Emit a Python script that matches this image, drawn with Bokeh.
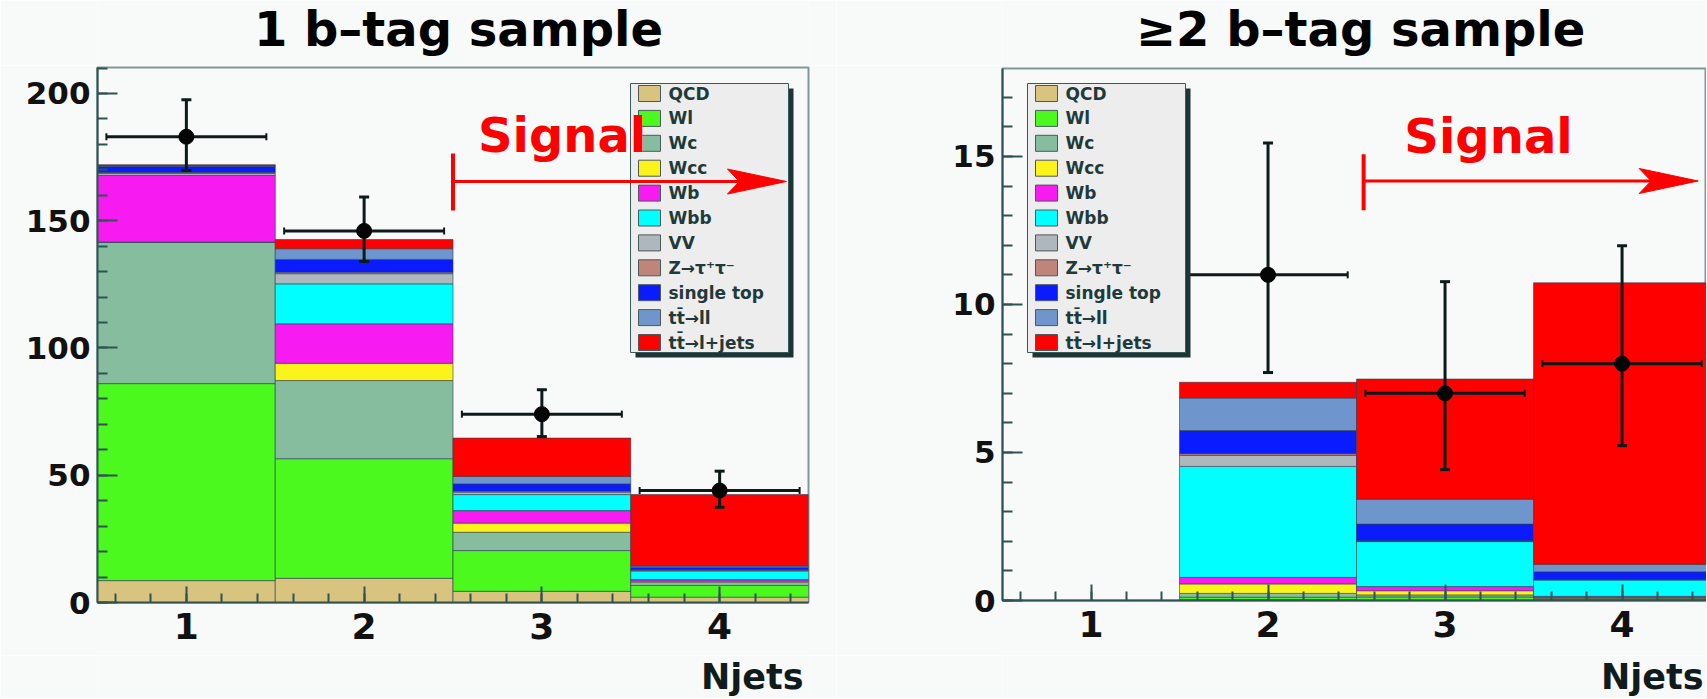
from bokeh.plotting import figure
from bokeh.layouts import row, column
from bokeh.models import Range1d, SingleIntervalTicker, ColumnDataSource
from bokeh.core.properties import value
from bokeh.embed import file_html
from bokeh.resources import INLINE

# ---------------- data ----------------
njets = [1, 2, 3, 4]
components = ["QCD", "Wl", "Wc", "Wcc", "Wb", "Wbb", "VV", "Z→τ⁺τ⁻",
              "single top", "tt̄→ll", "tt̄→l+jets"]
comp_colors = ["#d9c47f", "#4cf91f", "#86bd9f", "#fbf31a", "#f71bf2", "#00ffff",
               "#aeb8bc", "#c0857a", "#0a1cff", "#6f96cc", "#ff0000"]

# 1 b-tag sample (events per Njets bin)
qcd_1b = [8.6, 9.5, 4.4, 2.1]
wl_1b = [77.4, 47.0, 16.0, 4.6]
wc_1b = [55.6, 30.7, 7.2, 1.3]
wcc_1b = [0.0, 6.8, 3.6, 0.4]
wb_1b = [26.2, 15.5, 4.9, 0.6]
wbb_1b = [0.0, 15.7, 6.3, 3.4]
vv_1b = [0.8, 4.0, 1.0, 0.3]
ztt_1b = [0.4, 0.6, 0.4, 0.2]
stop_1b = [2.4, 5.0, 2.8, 0.9]
ttll_1b = [0.3, 4.2, 2.9, 0.5]
ttlj_1b = [0.3, 3.6, 15.1, 28.1]
data_1b = [183, 146, 74, 44]
err_up_1b = [14.5, 13.3, 9.6, 7.6]
err_dn_1b = [13.3, 12.0, 8.8, 6.6]

# >=2 b-tag sample
qcd_2b = [0.0, 0.03, 0.02, 0.01]
wl_2b = [0.0, 0.08, 0.10, 0.03]
wc_2b = [0.0, 0.13, 0.07, 0.03]
wcc_2b = [0.0, 0.32, 0.14, 0.03]
wb_2b = [0.0, 0.22, 0.14, 0.04]
wbb_2b = [0.0, 3.75, 1.52, 0.55]
vv_2b = [0.0, 0.37, 0.02, 0.02]
ztt_2b = [0.0, 0.06, 0.01, 0.01]
stop_2b = [0.0, 0.78, 0.56, 0.25]
ttll_2b = [0.0, 1.10, 0.84, 0.25]
ttlj_2b = [0.0, 0.53, 4.06, 9.51]
data_2b = [0, 11, 7, 8]
err_up_2b = [0.0, 4.45, 3.77, 3.98]
err_dn_2b = [0.0, 3.30, 2.58, 2.77]

stack_1b = [qcd_1b, wl_1b, wc_1b, wcc_1b, wb_1b, wbb_1b, vv_1b, ztt_1b, stop_1b, ttll_1b, ttlj_1b]
stack_2b = [qcd_2b, wl_2b, wc_2b, wcc_2b, wb_2b, wbb_2b, vv_2b, ztt_2b, stop_2b, ttll_2b, ttlj_2b]

# ---------------- style ----------------
BG = "#f8f9f9"
AXIS = "#2f5252"
FONT = "DejaVu Sans"
RED = "#ff0000"
ECOL = "#0c1a1a"
XERR = 0.45
BIN_HALF = 0.5
HEAD_H = 65
FOOT_H = 43


def text_strip(width, height, x_end, txt, x, y_px, size, align, color):
    """Axis-less strip (frame aligned with the panel below/above) holding a title text."""
    f = figure(width=width, height=height, x_range=Range1d(0.5, x_end),
               y_range=Range1d(0, height), title=None, x_axis_type=None, y_axis_type=None,
               output_backend="svg", toolbar_location=None, min_border=0,
               background_fill_color=BG, border_fill_color=BG, outline_line_color=None)
    f.grid.visible = False
    f.text(x=[x], y=[y_px], text=[txt], text_font=value(FONT), text_font_style="bold",
           text_font_size=size, text_color=color, text_align=align, text_baseline="middle")
    return f


def make_panel(stack, data, up, dn, x_end, y_end, geo, tick_int, legend_px, signal):
    w, h, bl, br, bt, bb = geo
    p = figure(width=w, height=h, x_range=Range1d(0.5, x_end), y_range=Range1d(0, y_end),
               title=None, output_backend="svg", toolbar_location=None,
               min_border_left=bl, min_border_right=br, min_border_top=bt, min_border_bottom=bb,
               background_fill_color=BG, border_fill_color=BG,
               outline_line_color="#7d9a9a", outline_line_width=2)
    p.grid.visible = False
    fw = w - bl - br
    fh = h - bt - bb
    sx = fw / (x_end - 0.5)
    sy = fh / y_end

    def X(px):
        return 0.5 + px / sx

    def Y(py):
        return py / sy

    # stacked histogram
    bottom = [0.0] * len(njets)
    for name, col, vals in zip(components, comp_colors, stack):
        top = [b + v for b, v in zip(bottom, vals)]
        src = ColumnDataSource(dict(left=[n - BIN_HALF for n in njets],
                                    right=[n + BIN_HALF for n in njets],
                                    bottom=bottom, top=top))
        p.quad(left="left", right="right", bottom="bottom", top="top", source=src,
               fill_color=col, line_color="#2c3e50", line_width=1, line_alpha=0.6)
        bottom = top

    # data points with error bars
    xs = [n for n, d in zip(njets, data) if d > 0]
    ys = [d for d in data if d > 0]
    ups = [d + u for d, u in zip(data, up) if d > 0]
    dns = [d - e for d, e in zip(data, dn) if d > 0]
    p.segment(x0=xs, y0=dns, x1=xs, y1=ups, line_color=ECOL, line_width=3)
    p.segment(x0=[x - XERR for x in xs], y0=ys, x1=[x + XERR for x in xs], y1=ys,
              line_color=ECOL, line_width=3)
    cap_w = 5 / sx
    cap_h = 3.5 / sy
    for yy in (ups, dns):
        p.segment(x0=[x - cap_w for x in xs], y0=yy, x1=[x + cap_w for x in xs], y1=yy,
                  line_color=ECOL, line_width=3)
    for sgn in (-1, 1):
        ex = [x + sgn * XERR for x in xs]
        p.segment(x0=ex, y0=[y - cap_h for y in ys], x1=ex, y1=[y + cap_h for y in ys],
                  line_color=ECOL, line_width=2)
    p.scatter(x=xs, y=ys, size=15, color="#050505")

    # legend box (ROOT style, with shadow)
    lx, ly, LW, LH = legend_px
    p.quad(left=[X(lx + 5)], right=[X(lx + LW + 5)], bottom=[Y(ly - 5)], top=[Y(ly + LH - 5)],
           fill_color="#1d3535", line_color=None)
    p.quad(left=[X(lx)], right=[X(lx + LW)], bottom=[Y(ly)], top=[Y(ly + LH)],
           fill_color="#ededed", line_color="#3a5a5a", line_width=1)
    pitch = 24.9
    centers = [ly + LH - 10 - i * pitch for i in range(len(components))]
    p.quad(left=[X(lx + 8)] * len(components), right=[X(lx + 30)] * len(components),
           bottom=[Y(c - 8) for c in centers], top=[Y(c + 8) for c in centers],
           fill_color=comp_colors, line_color="#4a5a5a", line_width=1)
    p.text(x=[X(lx + 38)] * len(components), y=[Y(c) for c in centers], text=components,
           text_font=value(FONT), text_font_style="bold", text_font_size="17px",
           text_color="#1f3a3a", text_baseline="middle", text_align="left")

    # Signal annotation
    bx, by0, by1, ay, tip, tx, ty = signal
    head_len, head_half, notch = 59, 12.5, 47
    p.segment(x0=[bx], y0=[by0], x1=[bx], y1=[by1], line_color=RED, line_width=4)
    p.segment(x0=[bx], y0=[ay], x1=[tip - notch / sx], y1=[ay], line_color=RED, line_width=3)
    p.patch(x=[tip, tip - head_len / sx, tip - notch / sx, tip - head_len / sx],
            y=[ay, ay + head_half / sy, ay, ay - head_half / sy],
            fill_color=RED, line_color=RED, line_width=1)
    p.text(x=[tx], y=[ty], text=["Signal"], text_color=RED, text_font=value(FONT),
           text_font_style="bold", text_font_size="48px",
           text_baseline="middle", text_align="left")

    # axes
    p.xaxis.ticker = SingleIntervalTicker(interval=1, num_minor_ticks=5)
    p.yaxis.ticker = SingleIntervalTicker(interval=tick_int, num_minor_ticks=5)
    for ax, tin, mtin, fs, so in ((p.xaxis, 16, 9, "36px", 10), (p.yaxis, 20, 10, "31px", 7)):
        ax.axis_line_color = AXIS
        ax.axis_line_width = 2
        ax.major_tick_line_color = AXIS
        ax.minor_tick_line_color = AXIS
        ax.major_tick_line_width = 2
        ax.minor_tick_line_width = 2
        ax.major_tick_in = tin
        ax.major_tick_out = 0
        ax.minor_tick_in = mtin
        ax.minor_tick_out = 0
        ax.major_label_text_font = FONT
        ax.major_label_text_font_style = "bold"
        ax.major_label_text_font_size = fs
        ax.major_label_text_color = "#111111"
        ax.major_label_standoff = so
    return p


# left: 1 b-tag   (width, height, border left, right, top, bottom)
WL = 836
XEND_L = 4.5
geo_l = (WL, 590, 97, 28, 2, 53)
p1 = make_panel(stack_1b, data_1b, err_up_1b, err_dn_1b, XEND_L, 210.2, geo_l, 50,
                (533, 250, 158, 269),
                (2.5, 154.0, 176.4, 165.4, 4.376, 2.64, 183.7))
h1 = text_strip(WL, HEAD_H, XEND_L, "1 b–tag sample", 2.531, 36.5, "48px", "center", "#000000")
f1 = text_strip(WL, FOOT_H, XEND_L, "Njets", 4.472, 22, "35px", "right", "#101c1c")

# right: >=2 b-tag
WR = 870
XEND_R = 4.477
geo_r = (WR, 590, 166, 0, 3, 55)
p2 = make_panel(stack_2b, data_2b, err_up_2b, err_dn_2b, XEND_R, 17.97, geo_r, 5,
                (25, 248, 158, 269),
                (2.54, 13.18, 15.07, 14.17, 4.43, 2.77, 15.69))
h2 = text_strip(WR, HEAD_H, XEND_R, "≥2 b–tag sample", 2.523, 36.5, "48px", "center", "#000000")
f2 = text_strip(WR, FOOT_H, XEND_R, "Njets", 4.46, 22, "35px", "right", "#101c1c")

layout = row(column(h1, p1, f1), column(h2, p2, f2))
open("out.html", "w").write(file_html(layout, INLINE))
